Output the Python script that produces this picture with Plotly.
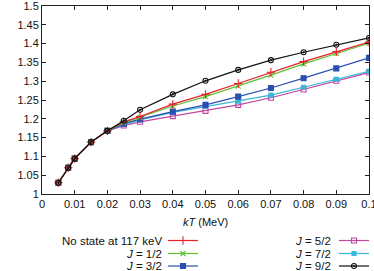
import plotly.graph_objects as go

kT = [0.005, 0.008, 0.01, 0.015, 0.02, 0.025, 0.03, 0.04, 0.05, 0.06, 0.07, 0.08, 0.09, 0.1]
shared = [1.030, 1.070, 1.094, 1.138, 1.168]

sef_nostate = shared + [1.192, 1.206, 1.239, 1.265, 1.294, 1.324, 1.352, 1.378, 1.404]
sef_j12 = shared + [1.190, 1.204, 1.234, 1.259, 1.287, 1.316, 1.346, 1.374, 1.401]
sef_j32 = shared + [1.187, 1.199, 1.219, 1.237, 1.259, 1.282, 1.308, 1.334, 1.362]
sef_j52 = shared + [1.182, 1.192, 1.207, 1.221, 1.237, 1.256, 1.278, 1.301, 1.323]
sef_j72 = shared + [1.185, 1.197, 1.217, 1.233, 1.247, 1.263, 1.284, 1.305, 1.326]
sef_j92 = shared + [1.195, 1.224, 1.265, 1.301, 1.330, 1.356, 1.377, 1.397, 1.415]

names = ["No state at 117 keV", "<i>J</i> = 1/2", "<i>J</i> = 3/2",
         "<i>J</i> = 5/2", "<i>J</i> = 7/2", "<i>J</i> = 9/2"]
series = [sef_nostate, sef_j12, sef_j32, sef_j52, sef_j72, sef_j92]
colors = ["#e8202a", "#5cc234", "#2a4fb0", "#c0469e", "#38b8d8", "#111111"]
symbols = ["cross-thin-open", "x-thin-open", "square", "square-open", "square", "circle-open-dot"]
sizes = [6, 5, 5, 5, 4, 5]

x_ticks = [0, 0.01, 0.02, 0.03, 0.04, 0.05, 0.06, 0.07, 0.08, 0.09, 0.1]
x_ticklabels = ["0", "0.01", "0.02", "0.03", "0.04", "0.05", "0.06", "0.07", "0.08", "0.09", "0.1"]
y_ticks = [1, 1.05, 1.1, 1.15, 1.2, 1.25, 1.3, 1.35, 1.4, 1.45, 1.5]
y_ticklabels = ["1", "1.05", "1.1", "1.15", "1.2", "1.25", "1.3", "1.35", "1.4", "1.45", "1.5"]

fig = go.Figure()
order = [3, 4, 2, 1, 0, 5]
for i in order:
    fig.add_trace(go.Scatter(
        x=kT, y=series[i], mode="lines+markers", name=names[i],
        line=dict(color=colors[i], width=1.2),
        marker=dict(symbol=symbols[i], size=sizes[i], color=colors[i],
                    line=dict(color=colors[i], width=1.1)),
        showlegend=False))

# custom legend (text first, then line sample) on a hidden pixel-scaled axis
leg_rows = [240.5, 253.5, 266]
leg_cols = [(163.5, 168, 198), (333, 339, 369)]
annotations = []
for k in range(6):
    col, row = divmod(k, 3)
    tx, x0, x1 = leg_cols[col]
    y = leg_rows[row]
    xm = (x0 + x1) / 2
    fig.add_trace(go.Scatter(
        x=[x0, x1], y=[y, y], mode="lines", xaxis="x2", yaxis="y2",
        line=dict(color=colors[k], width=1.2), showlegend=False, hoverinfo="skip",
        cliponaxis=False))
    fig.add_trace(go.Scatter(
        x=[xm], y=[y], mode="markers", xaxis="x2", yaxis="y2",
        marker=dict(symbol=symbols[k], size=sizes[k], color=colors[k],
                    line=dict(color=colors[k], width=1.1)),
        showlegend=False, hoverinfo="skip", cliponaxis=False))
    annotations.append(dict(x=tx, y=y, xref="x2", yref="y2", text=names[k],
                            showarrow=False, xanchor="right", yanchor="middle",
                            font=dict(size=11.5, color="#111111")))

annotations.append(dict(x=0.5, y=222, xref="paper", yref="y2", text="<i>kT</i> (MeV)",
                        showarrow=False, xanchor="center", yanchor="middle",
                        font=dict(size=11, color="#111111")))
annotations.append(dict(x=8, y=100, xref="x2", yref="y2", text="SEF", textangle=-90,
                        showarrow=False, xanchor="center", yanchor="middle",
                        font=dict(size=11, color="#111111")))

H = 271
mt, mb = 6, 2
plot_h = H - mt - mb
y_bottom_px = 194
dom_low = (H - mb - y_bottom_px) / plot_h

axis_common = dict(showline=True, linecolor="#222222", linewidth=1, mirror="ticks",
                   ticks="inside", ticklen=4, tickcolor="#222222", showgrid=False,
                   zeroline=False, automargin=False, ticklabeloverflow="allow",
                   tickfont=dict(size=11, color="#111111"))

fig.update_layout(
    template="none",
    width=374, height=H,
    margin=dict(l=42, r=5, t=mt, b=mb, autoexpand=False),
    paper_bgcolor="white", plot_bgcolor="white",
    font=dict(family="Liberation Sans, Arial, sans-serif", size=11, color="#111111"),
    xaxis=dict(range=[0, 0.1], tickvals=x_ticks, ticktext=x_ticklabels, **axis_common),
    yaxis=dict(range=[1, 1.5], tickvals=y_ticks, ticktext=y_ticklabels,
               domain=[dom_low, 1], **axis_common),
    xaxis2=dict(domain=[0, 1], range=[42, 369], visible=False, anchor="y2",
                fixedrange=True, automargin=False),
    yaxis2=dict(domain=[0, dom_low], range=[H - mb, y_bottom_px], visible=False,
                anchor="x2", fixedrange=True, automargin=False),
    annotations=annotations,
    showlegend=False,
)

fig.write_html("out.html", config={"displayModeBar": False},
               post_script="document.body.style.margin='0';document.body.style.overflow='hidden';")
